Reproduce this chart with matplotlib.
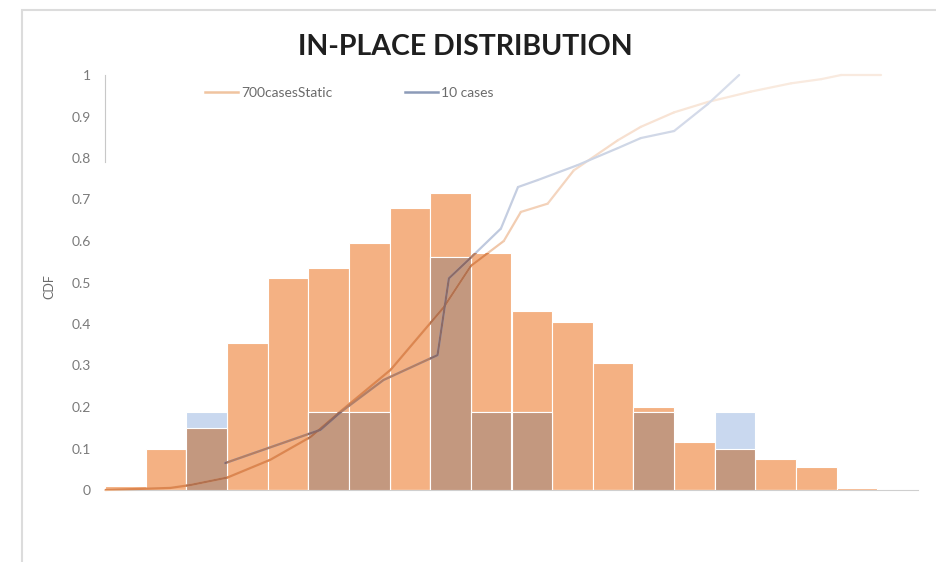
import numpy as np
import matplotlib
matplotlib.use("Agg")
import matplotlib.pyplot as plt
from matplotlib.path import Path
from matplotlib.collections import LineCollection
from matplotlib.lines import Line2D
from matplotlib.patches import Rectangle
from matplotlib.colors import to_rgb

# ---- data -------------------------------------------------------------
# histogram bins (unlabelled on the chart)
bins = list(range(20))
static_hist = [0.010, 0.100, 0.150, 0.355, 0.510, 0.535, 0.595, 0.680, 0.715, 0.570,
               0.432, 0.405, 0.305, 0.200, 0.115, 0.100, 0.074, 0.055, 0.004, 0.0]
ten_hist = [0.0, 0.0, 0.1875, 0.0, 0.0, 0.1875, 0.1875, 0.0, 0.5625, 0.1875,
            0.1875, 0.0, 0.0, 0.1875, 0.0, 0.1875, 0.0, 0.0, 0.0, 0.0]

# cumulative curves, x in bin units
static_cdf_x = [-0.49, 1.11, 1.60, 2.51, 3.57, 4.56, 5.30, 6.53, 7.83, 8.50, 9.31, 9.73,
                10.39, 11.03, 12.12, 12.68, 13.50, 14.33, 15.39, 16.38, 17.12, 17.61, 18.60]
static_cdf_y = [0.0, 0.005, 0.012, 0.030, 0.073, 0.128, 0.190, 0.290, 0.440, 0.540, 0.600, 0.670,
                0.690, 0.770, 0.843, 0.875, 0.910, 0.935, 0.960, 0.980, 0.990, 1.0, 1.0]
ten_cdf_x = [2.46, 4.80, 5.30, 6.35, 7.68, 7.96, 8.50, 9.24, 9.66, 10.15, 11.13, 12.12,
             12.68, 13.50, 14.33, 15.10]
ten_cdf_y = [0.065, 0.145, 0.188, 0.265, 0.325, 0.510, 0.560, 0.630, 0.730, 0.747, 0.783, 0.824,
             0.848, 0.865, 0.930, 1.0]

y_ticks = [0, 0.1, 0.2, 0.3, 0.4, 0.5, 0.6, 0.7, 0.8, 0.9, 1.0]
y_tick_labels = ["0", "0.1", "0.2", "0.3", "0.4", "0.5", "0.6", "0.7", "0.8", "0.9", "1"]
series_names = ["700casesStatic", "10 cases"]

# ---- style ------------------------------------------------------------
ORANGE = "#F4B183"
LIGHT_BLUE = "#C9D8EF"
BROWN = "#C3987F"
plt.rcParams["font.family"] = ["Lato", "DejaVu Sans"]

fig = plt.figure(figsize=(9.37, 5.62), dpi=100)
fig.patch.set_facecolor("white")
ax = fig.add_axes([105 / 937, 1 - 490 / 562, 813 / 937, 415 / 562])

x = np.array(bins, dtype=float)
o = np.array(static_hist)
b = np.array(ten_hist)
both = np.minimum(o, b)

# bars: static, ten-case, then the shared part where both overlap
ax.bar(x, o, width=1.0, color=ORANGE, edgecolor="white", linewidth=0.8, zorder=2)
ax.bar(x, b, width=1.0, color=LIGHT_BLUE, edgecolor="white", linewidth=0.8, zorder=2)
ax.bar(x, both, width=1.0, color=BROWN, edgecolor="white", linewidth=0.8, zorder=2)


def rect_path(xs, lows, highs, width=1.0):
    verts, codes = [], []
    for xc, lo, hi in zip(xs, lows, highs):
        if hi <= lo:
            continue
        lo = -0.03 if lo == 0 else lo
        x0, x1 = xc - width / 2, xc + width / 2
        verts += [(x0, lo), (x1, lo), (x1, hi), (x0, hi), (x0, lo)]
        codes += [Path.MOVETO, Path.LINETO, Path.LINETO, Path.LINETO, Path.CLOSEPOLY]
    return Path(verts, codes)


orange_region = rect_path(x, both, o)
brown_region = rect_path(x, np.zeros_like(o), both)


def faded_collection(xs, ys, color, a_lo, a_hi, slope):
    pts = np.column_stack([xs, ys])
    segs = np.stack([pts[:-1], pts[1:]], axis=1)
    ymid = (pts[:-1, 1] + pts[1:, 1]) / 2
    alpha = np.clip(a_hi - slope * ymid, a_lo, 1.0)
    base = np.array(to_rgb(color))
    cols = alpha[:, None] * base + (1 - alpha[:, None]) * 1.0
    lc = LineCollection(segs, colors=cols, linewidths=1.6, zorder=4,
                        capstyle="round", joinstyle="round")
    lc.set_clip_on(False)
    return lc


LW = 1.6
curves = [
    (static_cdf_x, static_cdf_y, "#EBB48C", 0.28, 1.40, 1.15, "#DC8650", "#B2714F"),
    (ten_cdf_x, ten_cdf_y, "#A4B2D0", 0.42, 1.15, 0.75, "#B67E62", "#8C6A66"),
]
for cx, cy, white_col, a_lo, a_hi, slope, on_orange, on_brown in curves:
    ax.add_collection(faded_collection(cx, cy, white_col, a_lo, a_hi, slope))
    for region, col in ((orange_region, on_orange), (brown_region, on_brown)):
        ln, = ax.plot(cx, cy, color=col, lw=LW, zorder=5,
                      solid_capstyle="round", solid_joinstyle="round")
        ln.set_clip_path(region, ax.transData)

ax.set_xlim(-0.5, 19.5)
ax.set_ylim(0, 1)
ax.set_xticks([])
ax.set_yticks(y_ticks)
ax.set_yticklabels(y_tick_labels)
ax.tick_params(axis="y", length=0, pad=10, labelsize=10, labelcolor="#7a7a7a")

for side in ("top", "right"):
    ax.spines[side].set_visible(False)
ax.spines["left"].set_bounds(0.79, 1.0)
ax.spines["left"].set_color("#C8C8C8")
ax.spines["bottom"].set_color("#CFCFCF")
ax.spines["bottom"].set_zorder(0.5)

ax.set_ylabel("CDF", fontsize=9, color="#6b6b6b")
ax.yaxis.set_label_coords(-0.061, 0.49)

handles = [Line2D([], [], color="#F0C4A0", lw=1.8),
           Line2D([], [], color="#8C9BB8", lw=1.8)]
ax.legend(handles, series_names, ncol=2, frameon=False, loc="center left",
          bbox_to_anchor=(205 / 937, 1 - 93 / 562), bbox_transform=fig.transFigure,
          borderpad=0, borderaxespad=0, handlelength=2.4, handletextpad=0.2,
          columnspacing=5.2, fontsize=10, labelcolor="#6b6b6b")

fig.text(465 / 937, 1 - 47 / 562, "IN-PLACE DISTRIBUTION", ha="center", va="center",
         fontsize=20.5, fontweight="bold", color="#1f1f1f")

# outer frame of the chart area
fig.patches.append(Rectangle((22 / 937, -0.05), 1.0, 1 - 10 / 562 + 0.05,
                             transform=fig.transFigure, fill=False,
                             edgecolor="#DCDCDC", lw=1.5))

fig.savefig("out.png", dpi=100)
